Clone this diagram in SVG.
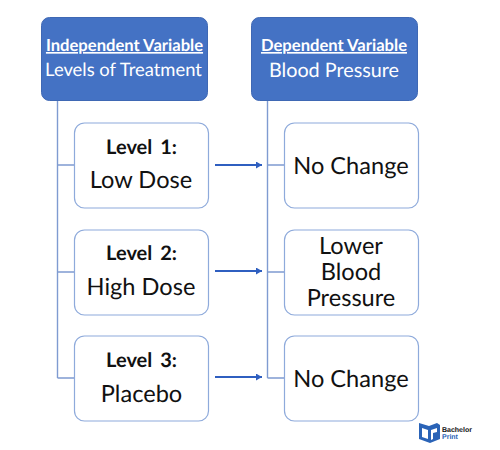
<svg xmlns="http://www.w3.org/2000/svg" width="500" height="450" viewBox="0 0 500 450">
<style>
text{font-family:Lato,"Open Sans",sans-serif;text-anchor:middle;fill:#111;text-rendering:geometricPrecision}
.hd rect{fill:#4472c4;stroke:#3f68b4;stroke-width:1}
.hd text{fill:#fff;font-size:18.400px}
.hd .u{font-weight:700;font-size:16.600px;text-decoration:underline}
.hd .l{font-size:19.800px}
.bx rect{fill:#fff;stroke:#8eaadb;stroke-width:1.2}
.bx text{font-size:23.600px}
.bx .b{font-weight:700;font-size:20px;word-spacing:3px}
.tr{stroke:#7f9bd1;stroke-width:1.4;fill:none}
.ar{stroke:#2f5fc0;stroke-width:2;fill:none;marker-end:url(#a)}
.lg{font-family:"Liberation Sans",sans-serif;font-size:7px;font-weight:700;text-anchor:start}
</style>
<defs><marker id="a" markerUnits="userSpaceOnUse" markerWidth="8" markerHeight="8" refX="6" refY="3.500" orient="auto"><path d="M0 0L6 3.500L0 7Z" fill="#2f5fc0"/></marker></defs>
<g id="connectors">
<path class="tr" d="M57.500 101V378M57.500 165H75M57.500 272H75M57.500 378H75"/>
<path class="tr" d="M267.500 101V378M267.500 165H284M267.500 272H284M267.500 378H284"/>
<path class="ar" d="M215 165H262"/>
<path class="ar" d="M215 271H262"/>
<path class="ar" d="M215 377H262"/>
</g>
<g id="n1" class="hd"><rect x="41.500" y="17.500" width="166" height="83" rx="8"/><text class="u" x="124.500" y="51">Independent Variable</text><text x="123.500" y="76">Levels of Treatment</text></g>
<g id="n2" class="hd"><rect x="251.500" y="17.500" width="166" height="83" rx="8"/><text class="u" x="334" y="51">Dependent Variable</text><text class="l" x="334" y="77">Blood Pressure</text></g>
<g id="n3" class="bx"><rect x="74.500" y="123" width="134" height="85" rx="10"/><text class="b" x="141.500" y="154">Level 1:</text><text x="141" y="188">Low Dose</text></g>
<g id="n4" class="bx"><rect x="74.500" y="230" width="134" height="85" rx="10"/><text class="b" x="141.500" y="260">Level 2:</text><text x="141" y="295">High Dose</text></g>
<g id="n5" class="bx"><rect x="74.500" y="336" width="134" height="85" rx="10"/><text class="b" x="141.500" y="367">Level 3:</text><text x="141.500" y="402">Placebo</text></g>
<g id="n6" class="bx"><rect x="284.500" y="123" width="134" height="85" rx="10"/><text x="351" y="174">No Change</text></g>
<g id="n7" class="bx"><rect x="284.500" y="230" width="134" height="85" rx="10"/><text x="351" y="254">Lower</text><text x="351" y="280">Blood</text><text x="351" y="306">Pressure</text></g>
<g id="n8" class="bx"><rect x="284.500" y="336" width="134" height="85" rx="10"/><text x="351" y="387">No Change</text></g>
<g id="logo">
<path d="M419 423L429 426L437 423L440 425V439L430 443L419 439Z" fill="#2a63b7"/>
<path d="M422 428L428 430V439L422 437ZM431 430L437 428V432L433 433V439L431 440Z" fill="#fff"/>
<text class="lg" x="442" y="432">Bachelor</text>
<text class="lg" x="442" y="439" style="fill:#2a63b7">Print</text>
</g>
</svg>
